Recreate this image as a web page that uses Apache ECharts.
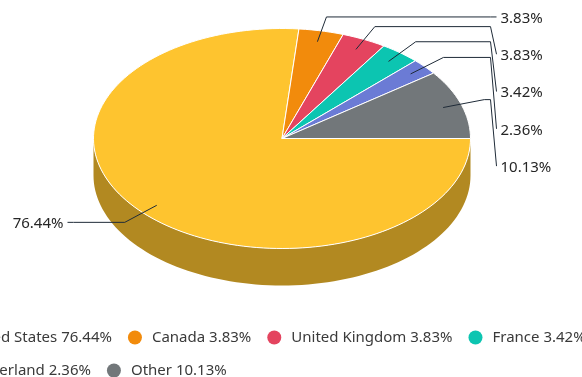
<!DOCTYPE html>
<html>
<head>
<meta charset="utf-8">
<script src="https://cdn.jsdelivr.net/npm/echarts@6/dist/echarts.min.js"></script>
<style>
  html, body { margin: 0; padding: 0; background: #fff; }
  #chart { width: 582px; height: 377px; }
</style>
</head>
<body>
<div id="chart"></div>
<script>
// data
var categories = ["United States", "Canada", "United Kingdom", "France", "Switzerland", "Other"];
var shares = [76.44, 3.83, 3.83, 3.42, 2.36, 10.13];
var colors = ["#fec42f", "#f28b0c", "#e4445f", "#0cc5b1", "#6b7bd5", "#72777a"];

// pie geometry (3d look: flattened ellipse + side wall)
var cx = 282, cy = 138.5, rx = 188.5, ry = 110, depth = 37;
var startDeg = 90; // 3 o'clock, clockwise
var labelFont = "15px 'Noto Sans', sans-serif";
var lineColor = "#1f2b38";

var total = shares.reduce(function (a, b) { return a + b; }, 0);

function pt(deg, r, dy) {
  var t = deg * Math.PI / 180;
  return [cx + rx * r * Math.sin(t), cy - ry * r * Math.cos(t) + (dy || 0)];
}

function arcPoints(a1, a2, r, dy) {
  var n = Math.max(2, Math.ceil(Math.abs(a2 - a1) / 2));
  var pts = [];
  for (var k = 0; k <= n; k++) {
    pts.push(pt(a1 + (a2 - a1) * k / n, r, dy));
  }
  return pts;
}

function darken(hex, f) {
  var n = parseInt(hex.slice(1), 16);
  var r = Math.round(((n >> 16) & 255) * f);
  var g = Math.round(((n >> 8) & 255) * f);
  var b = Math.round((n & 255) * f);
  return "rgb(" + r + "," + g + "," + b + ")";
}

// slice angles
var slices = [];
var acc = startDeg;
for (var i = 0; i < shares.length; i++) {
  var span = shares[i] / total * 360;
  var mid = acc + span / 2;
  slices.push({
    a1: acc,
    a2: acc + span,
    mid: mid,
    right: Math.sin(mid * Math.PI / 180) >= 0,
    inner: pt(mid, 0.9),
    elbow: pt(mid, 1.13)
  });
  acc += span;
}

// spread labels on each side so they don't overlap
function spread(side, gap) {
  var list = slices.filter(function (s) { return s.right === side; });
  list.sort(function (a, b) { return a.elbow[1] - b.elbow[1]; });
  var prev = -Infinity;
  list.forEach(function (s) {
    s.labelY = Math.max(s.elbow[1], prev + gap);
    prev = s.labelY;
  });
}
spread(true, 37.3);
spread(false, 37.3);

function makeRender(idx) {
  return function (params, api) {
    var s = slices[idx];
    var children = [];

    // side wall, only the front half is visible
    [[90, 270], [450, 630]].forEach(function (rng) {
      var b1 = Math.max(s.a1, rng[0]);
      var b2 = Math.min(s.a2, rng[1]);
      if (b2 > b1) {
        var top = arcPoints(b1, b2, 1, 0);
        var bottom = arcPoints(b1, b2, 1, depth).reverse();
        children.push({
          type: "polygon",
          z2: 1,
          shape: { points: top.concat(bottom) },
          style: { fill: darken(colors[idx], 0.7) }
        });
      }
    });

    // top face
    children.push({
      type: "polygon",
      z2: 10,
      shape: { points: [[cx, cy]].concat(arcPoints(s.a1, s.a2, 1, 0)) },
      style: { fill: colors[idx], stroke: "#ffffff", lineWidth: 1 }
    });

    // connector
    var dir = s.right ? 1 : -1;
    var hx = cx + dir * (rx + 20);
    var ex = cx + dir * (rx + 26);
    children.push({
      type: "polyline",
      z2: 20,
      shape: { points: [s.inner, s.elbow, [hx, s.elbow[1]], [ex, s.labelY]] },
      style: { stroke: lineColor, lineWidth: 1, fill: null }
    });

    children.push({
      type: "text",
      z2: 20,
      style: {
        x: cx + dir * (rx + 30),
        y: s.labelY + 1.5,
        text: api.value(0).toFixed(2) + "%",
        align: s.right ? "left" : "right",
        verticalAlign: "middle",
        font: labelFont,
        fill: "#262626"
      }
    });

    return { type: "group", children: children };
  };
}

var series = categories.map(function (name, i) {
  return {
    type: "custom",
    name: name,
    coordinateSystem: "none",
    itemStyle: { color: colors[i] },
    data: [[shares[i]]],
    renderItem: makeRender(i)
  };
});

function legendText(name) {
  return name + " " + shares[categories.indexOf(name)].toFixed(2) + "%";
}

var legendCommon = {
  orient: "horizontal",
  left: -66,
  width: 720,
  icon: "circle",
  itemWidth: 24,
  itemHeight: 14,
  itemGap: 16,
  formatter: legendText,
  textStyle: { fontSize: 15, color: "#3a3a3a", fontFamily: "Noto Sans" }
};

var chart = echarts.init(document.getElementById("chart"));
chart.setOption({
  animation: false,
  color: colors,
  legend: [
    Object.assign({}, legendCommon, { data: categories.slice(0, 4), top: 325 }),
    Object.assign({}, legendCommon, { data: categories.slice(4), top: 358 })
  ],
  series: series
});
</script>
</body>
</html>
